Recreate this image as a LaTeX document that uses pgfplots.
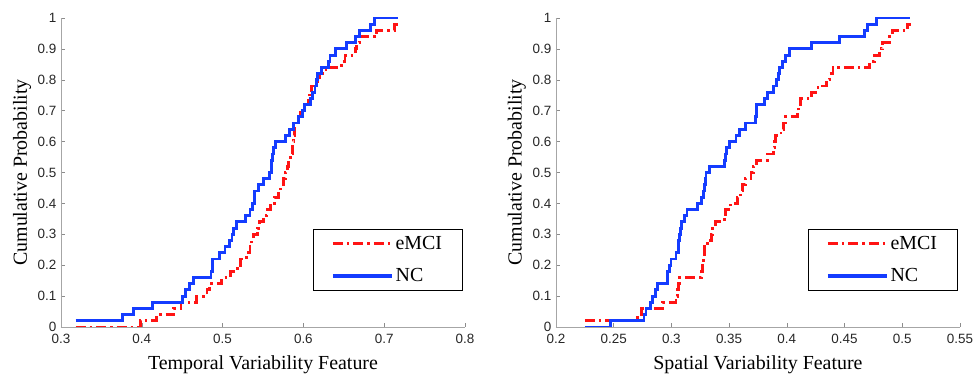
\documentclass[border=0pt]{standalone}
\usepackage{pgfplots}
\pgfplotsset{compat=1.18}
\usepackage{fontspec}
\setmainfont{Liberation Serif}
\newfontfamily\ticksans{Liberation Sans}
\definecolor{mred}{RGB}{255,20,20}
\definecolor{mblue}{RGB}{20,60,255}
\pgfplotsset{
  cdfax/.style={
    scale only axis, width=404bp, height=309bp,
    axis x line*=bottom, axis y line*=left,
    axis line style={draw=black!35, line width=0.6pt},
    tick style={draw=black!45, line width=0.5pt},
    tick align=inside, major tick length=4bp,
    ymin=0, ymax=1,
    ytick={0,0.1,0.2,0.3,0.4,0.5,0.6,0.7,0.8,0.9,1},
    yticklabels={0,0.1,0.2,0.3,0.4,0.5,0.6,0.7,0.8,0.9,1},
    ticklabel style={font=\ticksans\fontsize{13.5}{15}\selectfont, text=black!85, inner sep=2bp},
    xticklabel style={yshift=-5bp},
    yticklabel style={xshift=-2.5bp},
    /pgf/number format/assume math mode=true,
    label style={font=\fontsize{20}{24}\selectfont},
    xlabel style={yshift=-6bp},
    ylabel style={yshift=1bp},
    ylabel={Cumulative Probability},
    legend cell align=left,
    legend image code/.code={\draw[#1, line width=3.6pt] (0bp,0bp) -- (59bp,0bp);},
    legend style={at={(0.994,0.117)}, anchor=south east, draw=black, line width=0.9pt,
      font=\fontsize{20}{24}\selectfont, row sep=14bp, inner xsep=18bp, inner ysep=5bp,
      fill=white},
  },
  redl/.style={mred, line width=2.9pt, dash pattern=on 10bp off 4bp on 2.5bp off 4bp, const plot},
  bluel/.style={mblue, line width=2.9pt, const plot},
}
\begin{document}
\begin{tikzpicture}
\path (0,0) rectangle (975bp,379bp);
% LEFT
\begin{axis}[cdfax, at={(61bp,52bp)}, anchor=south west,
  xmin=0.3, xmax=0.8,
  xtick={0.3,0.4,0.5,0.6,0.7,0.8},
  xticklabels={0.3,0.4,0.5,0.6,0.7,0.8},
  xlabel={Temporal Variability Feature}]
\addplot[redl] coordinates {
(0.318,0) (0.398,0.02) (0.418,0.04) (0.4395,0.06) (0.4486,0.08) (0.468,0.10)
(0.4807,0.12) (0.484,0.14) (0.499,0.16) (0.5095,0.18) (0.518,0.20) (0.522,0.22)
(0.530,0.24) (0.534,0.26) (0.536,0.28) (0.538,0.30) (0.543,0.32) (0.546,0.34)
(0.551,0.36) (0.555,0.38) (0.559,0.40) (0.564,0.42) (0.569,0.44) (0.572,0.46)
(0.575,0.48) (0.5774,0.50) (0.580,0.52) (0.582,0.54) (0.5836,0.56) (0.586,0.58)
(0.587,0.60) (0.588,0.62) (0.589,0.64) (0.5897,0.66) (0.594,0.68) (0.596,0.70)
(0.602,0.72) (0.606,0.74) (0.608,0.76) (0.6104,0.78) (0.617,0.80) (0.6206,0.82)
(0.628,0.84) (0.6474,0.86) (0.6515,0.88) (0.664,0.90) (0.666,0.92) (0.669,0.94)
(0.6906,0.96) (0.713,0.98) (0.719,0.98)};
\addlegendentry{eMCI}
\addplot[bluel] coordinates {
(0.318,0.02) (0.3758,0.04) (0.390,0.06) (0.4128,0.08) (0.450,0.10) (0.454,0.12)
(0.459,0.14) (0.464,0.16) (0.4857,0.18) (0.487,0.20) (0.488,0.22) (0.496,0.24)
(0.503,0.26) (0.509,0.28) (0.5116,0.30) (0.514,0.32) (0.517,0.34) (0.528,0.36)
(0.534,0.38) (0.5375,0.40) (0.539,0.42) (0.540,0.44) (0.5444,0.46) (0.5506,0.48)
(0.558,0.50) (0.560,0.52) (0.561,0.54) (0.562,0.56) (0.563,0.58) (0.565,0.60)
(0.5774,0.62) (0.5827,0.64) (0.5877,0.66) (0.5938,0.68) (0.599,0.70) (0.601,0.72)
(0.609,0.74) (0.6116,0.76) (0.6144,0.78) (0.616,0.80) (0.6173,0.82) (0.6227,0.84)
(0.631,0.86) (0.633,0.88) (0.640,0.90) (0.6536,0.92) (0.665,0.94) (0.669,0.96)
(0.6836,0.98) (0.6877,1.0) (0.717,1.0)};
\addlegendentry{NC}
\end{axis}
% RIGHT
\begin{axis}[cdfax, at={(556bp,52bp)}, anchor=south west, width=404bp,
  xmin=0.2, xmax=0.55,
  xtick={0.2,0.25,0.3,0.35,0.4,0.45,0.5,0.55},
  xticklabels={0.2,0.25,0.3,0.35,0.4,0.45,0.5,0.55},
  xlabel={Spatial Variability Feature}]
\addplot[redl] coordinates {
(0.225,0.02) (0.271,0.04) (0.274,0.06) (0.2926,0.08) (0.304,0.10) (0.305,0.12)
(0.306,0.14) (0.307,0.16) (0.326,0.18) (0.327,0.20) (0.328,0.22) (0.3285,0.24)
(0.329,0.26) (0.331,0.28) (0.335,0.30) (0.336,0.32) (0.338,0.34) (0.346,0.36)
(0.347,0.38) (0.351,0.40) (0.357,0.42) (0.360,0.44) (0.362,0.46) (0.364,0.48)
(0.369,0.50) (0.371,0.52) (0.374,0.54) (0.383,0.56) (0.3886,0.58) (0.3895,0.60)
(0.390,0.62) (0.395,0.64) (0.397,0.66) (0.3986,0.68) (0.409,0.70) (0.410,0.72)
(0.412,0.74) (0.4216,0.76) (0.427,0.78) (0.4345,0.80) (0.437,0.82) (0.440,0.84)
(0.4717,0.86) (0.476,0.88) (0.480,0.90) (0.483,0.92) (0.4888,0.94) (0.4917,0.96)
(0.5046,0.98) (0.508,0.98)};
\addlegendentry{eMCI}
\addplot[bluel] coordinates {
(0.225,0) (0.2473,0.02) (0.2763,0.04) (0.278,0.06) (0.282,0.08) (0.284,0.10)
(0.286,0.12) (0.288,0.14) (0.2965,0.16) (0.297,0.18) (0.298,0.20) (0.2997,0.22)
(0.304,0.24) (0.306,0.26) (0.3065,0.28) (0.307,0.30) (0.308,0.32) (0.309,0.34)
(0.311,0.36) (0.3135,0.38) (0.323,0.40) (0.326,0.42) (0.328,0.44) (0.329,0.46)
(0.3295,0.48) (0.330,0.50) (0.3327,0.52) (0.346,0.54) (0.347,0.56) (0.348,0.58)
(0.350,0.60) (0.356,0.62) (0.359,0.64) (0.364,0.66) (0.373,0.68) (0.3735,0.70)
(0.374,0.72) (0.381,0.74) (0.3834,0.76) (0.3886,0.78) (0.391,0.80) (0.393,0.82)
(0.394,0.84) (0.396,0.86) (0.3986,0.88) (0.402,0.90) (0.4216,0.92) (0.446,0.94)
(0.467,0.96) (0.4697,0.98) (0.478,1.0) (0.507,1.0)};
\addlegendentry{NC}
\end{axis}
\end{tikzpicture}
\end{document}
